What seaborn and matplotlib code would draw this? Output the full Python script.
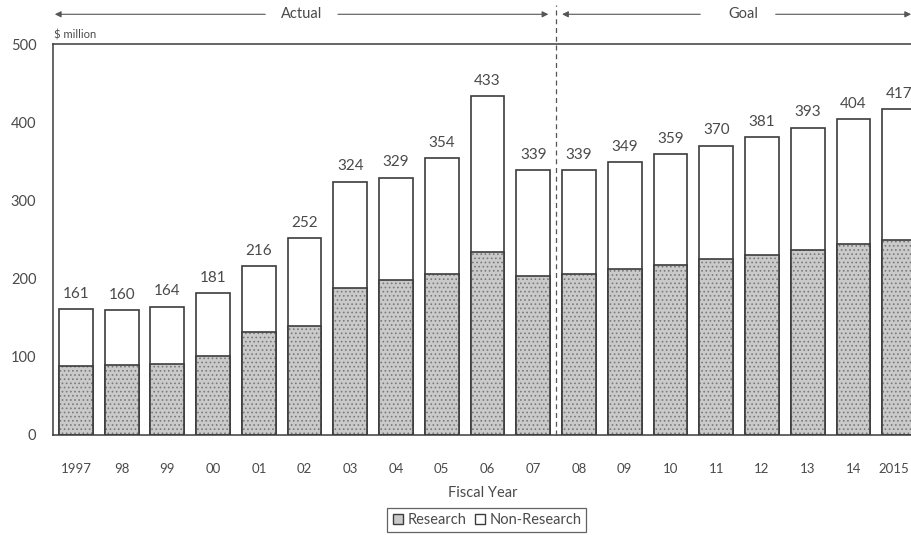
import matplotlib
matplotlib.use("Agg")
import matplotlib.pyplot as plt
import matplotlib.transforms as mtransforms
import seaborn as sns
import pandas as pd
from matplotlib.patches import Patch
from matplotlib.colors import to_rgba

# Fiscal years and funding ($ million)
years = ["1997", "98", "99", "00", "01", "02", "03", "04", "05", "06",
         "07", "08", "09", "10", "11", "12", "13", "14", "2015"]
totals = [161, 160, 164, 181, 216, 252, 324, 329, 354, 433,
          339, 339, 349, 359, 370, 381, 393, 404, 417]
research = [88, 90, 91, 101, 132, 140, 188, 198, 206, 234,
            203, 206, 212, 218, 225, 230, 237, 244, 250]
y_ticks = [0, 100, 200, 300, 400, 500]

df = pd.DataFrame({"year": years, "total": totals, "research": research})

sns.set_theme(style="white")
plt.rcParams["font.family"] = ["Lato", "DejaVu Sans"]

INK = "#3c3c3c"
TXT = "#4a4a4a"
RES_FACE = "#cacaca"
RES_DOTS = "#7a7a7a"
BAR_W = 0.74

fig = plt.figure(figsize=(9.12, 5.35), dpi=100)
ax = fig.add_axes([53 / 912, 100 / 535, 859 / 912, 391 / 535])

# Total (non-research part shows white above the research part)
sns.barplot(data=df, x="year", y="total", order=years, color="white",
            edgecolor=INK, linewidth=1.2, width=BAR_W, saturation=1, ax=ax)
n_total = len(ax.patches)

# Research part, stippled gray
plt.rcParams["hatch.linewidth"] = 0.7
sns.barplot(data=df, x="year", y="research", order=years, color=RES_FACE,
            edgecolor=INK, linewidth=1.2, width=BAR_W, saturation=1,
            hatch="....", ax=ax)
for p in ax.patches[n_total:]:
    if hasattr(p, "set_hatchcolor"):
        p.set_hatchcolor(RES_DOTS)
    else:
        p._hatch_color = to_rgba(RES_DOTS)

# Value labels above bars
for i, v in enumerate(totals):
    ax.annotate(str(v), (i, v), xytext=(0, 6), textcoords="offset points",
                ha="center", va="bottom", fontsize=11, color=TXT)

ax.set_xlim(-0.5, 18.28)
ax.set_ylim(0, 500)
ax.set_yticks(y_ticks)
ax.set_yticklabels([str(t) for t in y_ticks])
ax.tick_params(axis="y", length=0, pad=12, labelsize=10.5, labelcolor=TXT)
ax.tick_params(axis="x", length=0, pad=20, labelsize=9.5, labelcolor=TXT)
ax.set_xlabel("Fiscal Year", fontsize=10.5, color=TXT, labelpad=8)
ax.set_ylabel("")

# Keep the last year label inside the figure edge
last = ax.get_xticklabels()[-1]
last.set_transform(last.get_transform() +
                   mtransforms.ScaledTranslation(-5 / 100, 0, fig.dpi_scale_trans))

for side in ["left", "top", "bottom"]:
    ax.spines[side].set_visible(True)
    ax.spines[side].set_color(INK)
    ax.spines[side].set_linewidth(1.1)
ax.spines["right"].set_visible(False)

ax.text(-0.47, 505, "$ million", fontsize=8, color=TXT, ha="left", va="bottom")

# Divider between actual and goal years
ax.plot([10.5, 10.5], [0, 550], ls=(0, (4, 3)), color="#555555", lw=0.9,
        clip_on=False, zorder=5)

# Actual / Goal range arrows
arr_y = 538
arrow = dict(arrowstyle="-|>", lw=0.8, color="#555555", mutation_scale=9,
             shrinkA=0, shrinkB=0)
ax.annotate("", xy=(-0.46, arr_y), xytext=(4.14, arr_y), arrowprops=arrow,
            annotation_clip=False)
ax.annotate("", xy=(10.33, arr_y), xytext=(5.73, arr_y), arrowprops=arrow,
            annotation_clip=False)
ax.text(4.93, arr_y, "Actual", ha="center", va="center", fontsize=10.5,
        color=TXT, clip_on=False)
ax.annotate("", xy=(10.63, arr_y), xytext=(13.65, arr_y), arrowprops=arrow,
            annotation_clip=False)
ax.annotate("", xy=(18.26, arr_y), xytext=(15.3, arr_y), arrowprops=arrow,
            annotation_clip=False)
ax.text(14.6, arr_y, "Goal", ha="center", va="center", fontsize=10.5,
        color=TXT, clip_on=False)

# Legend
handles = [Patch(facecolor=RES_FACE, edgecolor=INK, lw=1.0, label="Research"),
           Patch(facecolor="white", edgecolor=INK, lw=1.0, label="Non-Research")]
leg = fig.legend(handles=handles, loc="center", bbox_to_anchor=(487 / 912, 1 - 520 / 535),
                 ncol=2, frameon=True, fancybox=False, fontsize=10.5,
                 handlelength=0.7, handleheight=0.7, handletextpad=0.3,
                 columnspacing=0.6, borderpad=0.35, labelcolor=TXT)
leg.get_frame().set_edgecolor(INK)
leg.get_frame().set_linewidth(0.9)

fig.savefig("out.png", dpi=100)
